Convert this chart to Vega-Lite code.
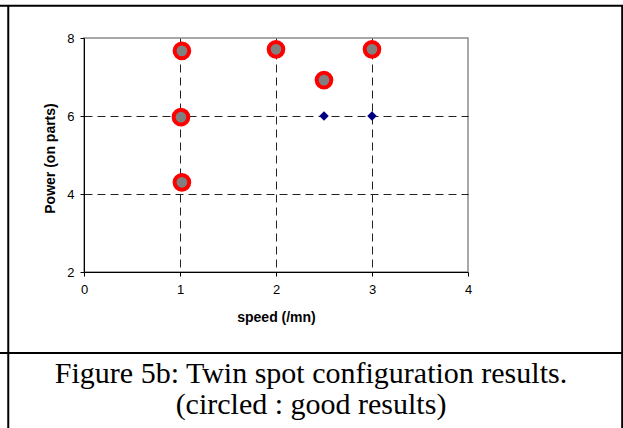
{
  "$schema": "https://vega.github.io/schema/vega-lite/v6.json",
  "width": 384,
  "height": 234,
  "autosize": {"type": "none"},
  "padding": {"left": 84, "top": 38, "right": 155, "bottom": 156},
  "background": "white",
  "config": {
    "view": {"stroke": "#8c8c8c", "strokeWidth": 1.5},
    "font": "Liberation Sans"
  },
  "title": {
    "text": ["Figure 5b: Twin spot configuration results.", "(circled : good results)"],
    "orient": "bottom",
    "anchor": "middle",
    "font": "Liberation Serif",
    "fontSize": 30,
    "fontWeight": "normal",
    "color": "#000000",
    "lineHeight": 31,
    "dx": 35,
    "offset": -70,
    "baseline": "top"
  },
  "datasets": {
    "frame": [
      {"part": "top", "x": -0.875, "x2": 5.615, "y": 8.826, "y2": 8.826},
      {"part": "separator", "x": -0.875, "x2": 5.615, "y": -0.077, "y2": -0.077},
      {"part": "left", "x": -0.789, "x2": -0.789, "y": 8.826, "y2": -2.0},
      {"part": "right", "x": 5.606, "x2": 5.606, "y": 8.826, "y2": -2.0}
    ],
    "points": [
      {"speed": 1.02, "power": 7.67, "result": "good"},
      {"speed": 2.0, "power": 7.71, "result": "good"},
      {"speed": 3.0, "power": 7.71, "result": "good"},
      {"speed": 2.5, "power": 6.92, "result": "good"},
      {"speed": 1.01, "power": 5.97, "result": "good"},
      {"speed": 1.02, "power": 4.3, "result": "good"},
      {"speed": 2.5, "power": 6.0, "result": "other"},
      {"speed": 3.0, "power": 6.0, "result": "other"}
    ]
  },
  "resolve": {"axis": {"x": "independent", "y": "independent"}},
  "layer": [
    {
      "data": {"name": "points"},
      "transform": [{"filter": "datum.result === 'other'"}],
      "mark": {"type": "point", "shape": "diamond", "filled": true, "color": "#000080", "opacity": 1, "size": 90},
      "encoding": {
        "x": {
          "field": "speed",
          "type": "quantitative",
          "scale": {"domain": [0, 4], "nice": false, "zero": false},
          "axis": {
            "values": [0, 1, 2, 3, 4],
            "title": "speed (/mn)",
            "titleFont": "Liberation Sans",
            "titleFontSize": 14,
            "titleFontWeight": "bold",
            "titleColor": "#000000",
            "titleY": 49,
            "titleBaseline": "alphabetic",
            "domainColor": "#000000",
            "domainWidth": 1,
            "tickColor": "#000000",
            "tickSize": 4,
            "labelFontSize": 13,
            "labelColor": "#000000",
            "labelPadding": 7,
            "labelFlush": false,
            "labelOverlap": false,
            "grid": true,
            "gridColor": "#222222",
            "gridDash": [8, 5],
            "gridWidth": 1,
            "gridOpacity": {"condition": {"test": "datum.value === 0 || datum.value === 4", "value": 0}, "value": 1}
          }
        },
        "y": {
          "field": "power",
          "type": "quantitative",
          "scale": {"domain": [2, 8], "nice": false, "zero": false},
          "axis": {
            "values": [2, 4, 6, 8],
            "title": "Power (on parts)",
            "titleFont": "Liberation Sans",
            "titleFontSize": 14,
            "titleFontWeight": "bold",
            "titleColor": "#000000",
            "titleX": -30,
            "titleY": 120,
            "titleBaseline": "alphabetic",
            "domainColor": "#000000",
            "domainWidth": 1,
            "tickColor": "#000000",
            "tickSize": 4,
            "labelFontSize": 13,
            "labelColor": "#000000",
            "labelPadding": 6,
            "labelFlush": false,
            "labelOverlap": false,
            "grid": true,
            "gridColor": "#222222",
            "gridDash": [8, 5],
            "gridWidth": 1,
            "gridOpacity": {"condition": {"test": "datum.value === 2 || datum.value === 8", "value": 0}, "value": 1}
          }
        }
      }
    },
    {
      "data": {"name": "points"},
      "transform": [{"filter": "datum.result === 'good'"}],
      "mark": {"type": "point", "shape": "circle", "filled": true, "fill": "#808080", "stroke": "#ff0000", "strokeWidth": 4, "opacity": 1, "fillOpacity": 1, "size": 215},
      "encoding": {
        "x": {"field": "speed", "type": "quantitative", "scale": {"domain": [0, 4], "nice": false, "zero": false}, "axis": null},
        "y": {"field": "power", "type": "quantitative", "scale": {"domain": [2, 8], "nice": false, "zero": false}, "axis": null}
      }
    },
    {
      "data": {"name": "frame"},
      "mark": {"type": "rule", "color": "#000000", "strokeWidth": 2, "clip": false},
      "encoding": {
        "x": {"field": "x", "type": "quantitative", "scale": {"domain": [0, 4], "nice": false, "zero": false}, "axis": null},
        "x2": {"field": "x2"},
        "y": {"field": "y", "type": "quantitative", "scale": {"domain": [2, 8], "nice": false, "zero": false}, "axis": null},
        "y2": {"field": "y2"}
      }
    }
  ]
}
